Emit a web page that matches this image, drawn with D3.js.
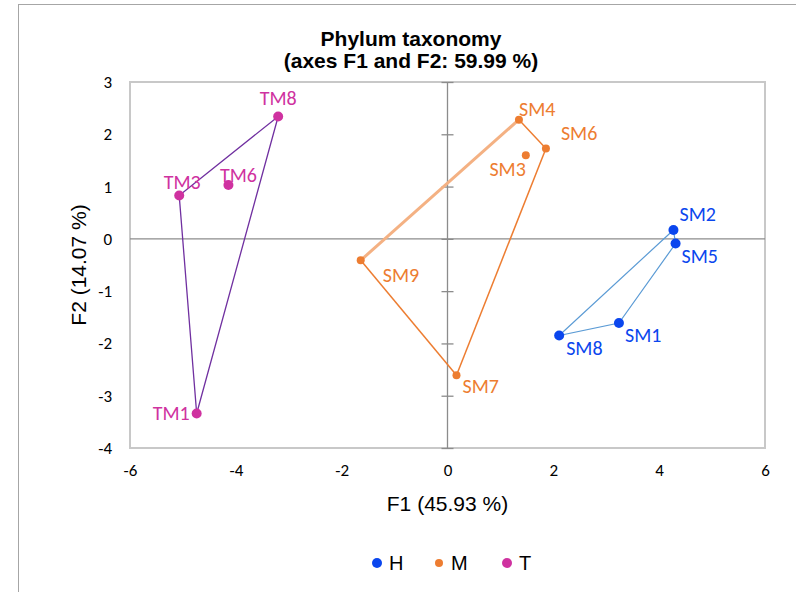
<!DOCTYPE html>
<html>
<head>
<meta charset="utf-8">
<script src="https://cdn.jsdelivr.net/npm/d3@7"></script>
<style>
  body { margin: 0; background: #fff; }
  svg { display: block; }
</style>
</head>
<body>
<div id="chart"></div>
<script>
// sample scores on F1 / F2
const names = ["SM2", "SM5", "SM1", "SM8", "SM4", "SM6", "SM3", "SM9", "SM7", "TM8", "TM3", "TM6", "TM1"]
const groups = ["H", "H", "H", "H", "M", "M", "M", "M", "M", "T", "T", "T", "T"]
const f1 = [4.27, 4.31, 3.24, 2.11, 1.35, 1.86, 1.48, -1.64, 0.17, -3.20, -5.07, -4.14, -4.74]
const f2 = [0.17, -0.09, -1.61, -1.85, 2.28, 1.73, 1.60, -0.41, -2.61, 2.34, 0.83, 1.03, -3.34]

// convex hulls, drawn as closed outlines
const hullH = ["SM2", "SM8", "SM1", "SM5", "SM2"]
const hullM = ["SM9", "SM4", "SM6", "SM7", "SM9"]
const hullT = ["TM8", "TM3", "TM1", "TM8"]

const legendKeys = ["H", "M", "T"]
const xTicks = [-6, -4, -2, 0, 2, 4, 6]
const yTicks = [-4, -3, -2, -1, 0, 1, 2, 3]

const W = 796, H = 592
const plot = { left: 130, right: 765, top: 82, bottom: 448 }

const color = { H: "#0a46ee", M: "#ed7d31", T: "#cf32a0" }
const radius = { H: 5, M: 4, T: 5 }

// label placement: [dx, dy, anchor]
const labelPos = {
  SM2: [6, -16, "start"], SM5: [6, 12, "start"], SM1: [6, 12, "start"], SM8: [7, 12, "start"],
  SM4: [0, -11, "start"], SM6: [15, -15, "start"], SM3: [0, 14, "end"],
  SM9: [22, 15, "start"], SM7: [6, 11, "start"],
  TM8: [0, -19, "middle"], TM3: [3, -13, "middle"], TM6: [10, -10, "middle"], TM1: [-7, 0, "end"]
}

const points = names.map((n, i) => ({ name: n, group: groups[i], x: f1[i], y: f2[i] }))
const byName = Object.fromEntries(points.map(p => [p.name, p]))

const x = d3.scaleLinear().domain([-6, 6]).range([plot.left, plot.right])
const y = d3.scaleLinear().domain([-4, 3]).range([plot.bottom, plot.top])

const svg = d3.select("#chart").append("svg")
  .attr("width", W)
  .attr("height", H)

// outer chart frame
svg.append("rect")
  .attr("x", 18.5).attr("y", 4.5)
  .attr("width", 800).attr("height", 600)
  .attr("fill", "none")
  .attr("stroke", "#a6a6a6")
  .attr("stroke-width", 1)

// plot area border
svg.append("rect")
  .attr("x", plot.left).attr("y", plot.top)
  .attr("width", plot.right - plot.left)
  .attr("height", plot.bottom - plot.top)
  .attr("fill", "none")
  .attr("stroke", "#c8c8c8")
  .attr("stroke-width", 2)

// axes through the origin
svg.append("line")
  .attr("x1", plot.left).attr("x2", plot.right)
  .attr("y1", y(0)).attr("y2", y(0))
  .attr("stroke", "#8c8c8c").attr("stroke-width", 1.3)

const yAxis = d3.axisLeft(y).tickValues(yTicks).tickSize(12).tickFormat("")
svg.append("g")
  .attr("transform", `translate(${x(0) + 6},0)`)
  .call(yAxis)
  .call(g => g.select(".domain").remove())
  .call(g => g.selectAll(".tick line").attr("stroke", "#8c8c8c").attr("stroke-width", 1.3))

svg.append("line")
  .attr("x1", x(0)).attr("x2", x(0))
  .attr("y1", plot.top).attr("y2", plot.bottom)
  .attr("stroke", "#8c8c8c").attr("stroke-width", 1.3)

// tick labels sit at the plot edges
const tickFont = "Carlito, Lato, sans-serif"
const fmt = d => String(d)
svg.append("g")
  .attr("transform", `translate(0,${plot.bottom})`)
  .call(d3.axisBottom(x).tickValues(xTicks).tickSize(0).tickPadding(16).tickFormat(fmt))
  .call(g => g.select(".domain").remove())
  .call(g => g.selectAll("text").attr("font-family", tickFont).attr("font-size", 17).attr("fill", "#000"))

svg.append("g")
  .attr("transform", `translate(${plot.left},0)`)
  .call(d3.axisLeft(y).tickValues(yTicks).tickSize(0).tickPadding(18).tickFormat(fmt))
  .call(g => g.select(".domain").remove())
  .call(g => g.selectAll("text").attr("font-family", tickFont).attr("font-size", 17).attr("fill", "#000"))

// hulls
const line = d3.line().x(d => x(byName[d].x)).y(d => y(byName[d].y))
svg.append("path").datum(hullH).attr("d", line)
  .attr("fill", "none").attr("stroke", "#5b9bd5").attr("stroke-width", 1.2)

const hullPairs = d3.pairs(hullM)
svg.selectAll(".hullM").data(hullPairs).enter().append("path")
  .attr("d", d => line(d))
  .attr("fill", "none")
  .attr("stroke", (d, i) => i === 0 ? "#f4b183" : "#ed7d31")
  .attr("stroke-width", (d, i) => i === 0 ? 3 : 1.5)

svg.append("path").datum(hullT).attr("d", line)
  .attr("fill", "none").attr("stroke", "#7030a0").attr("stroke-width", 1.3)

// points
svg.selectAll("circle.pt").data(points).enter().append("circle")
  .attr("class", "pt")
  .attr("cx", d => x(d.x))
  .attr("cy", d => y(d.y))
  .attr("r", d => radius[d.group])
  .attr("fill", d => color[d.group])

// point labels
svg.selectAll("text.lbl").data(points).enter().append("text")
  .attr("class", "lbl")
  .attr("x", d => x(d.x) + labelPos[d.name][0])
  .attr("y", d => y(d.y) + labelPos[d.name][1])
  .attr("dy", "0.35em")
  .attr("text-anchor", d => labelPos[d.name][2])
  .attr("font-family", tickFont)
  .attr("font-size", 20)
  .attr("fill", d => color[d.group])
  .text(d => d.name)

// title
const title = svg.append("text")
  .attr("x", 411).attr("y", 46)
  .attr("text-anchor", "middle")
  .attr("font-family", "'Liberation Sans', Arial, sans-serif")
  .attr("font-weight", "bold")
  .attr("font-size", 21)
title.append("tspan").attr("x", 411).text("Phylum taxonomy")
title.append("tspan").attr("x", 411).attr("dy", 22).text("(axes F1 and F2: 59.99 %)")

// axis titles
svg.append("text")
  .attr("x", (plot.left + plot.right) / 2).attr("y", 511)
  .attr("text-anchor", "middle")
  .attr("font-family", "'Liberation Sans', Arial, sans-serif")
  .attr("font-size", 21)
  .text("F1 (45.93 %)")

svg.append("text")
  .attr("transform", `translate(86,${(plot.top + plot.bottom) / 2}) rotate(-90)`)
  .attr("text-anchor", "middle")
  .attr("font-family", "'Liberation Sans', Arial, sans-serif")
  .attr("font-size", 21)
  .text("F2 (14.07 %)")

// legend
const legendX = [377, 439, 507]
const lg = svg.selectAll("g.lg").data(legendKeys).enter().append("g")
  .attr("class", "lg")
  .attr("transform", (d, i) => `translate(${legendX[i]},563)`)
lg.append("circle").attr("r", d => radius[d]).attr("fill", d => color[d])
lg.append("text")
  .attr("x", 12).attr("dy", "0.36em")
  .attr("font-family", "'Liberation Sans', Arial, sans-serif")
  .attr("font-size", 20)
  .text(d => d)
</script>
</body>
</html>
